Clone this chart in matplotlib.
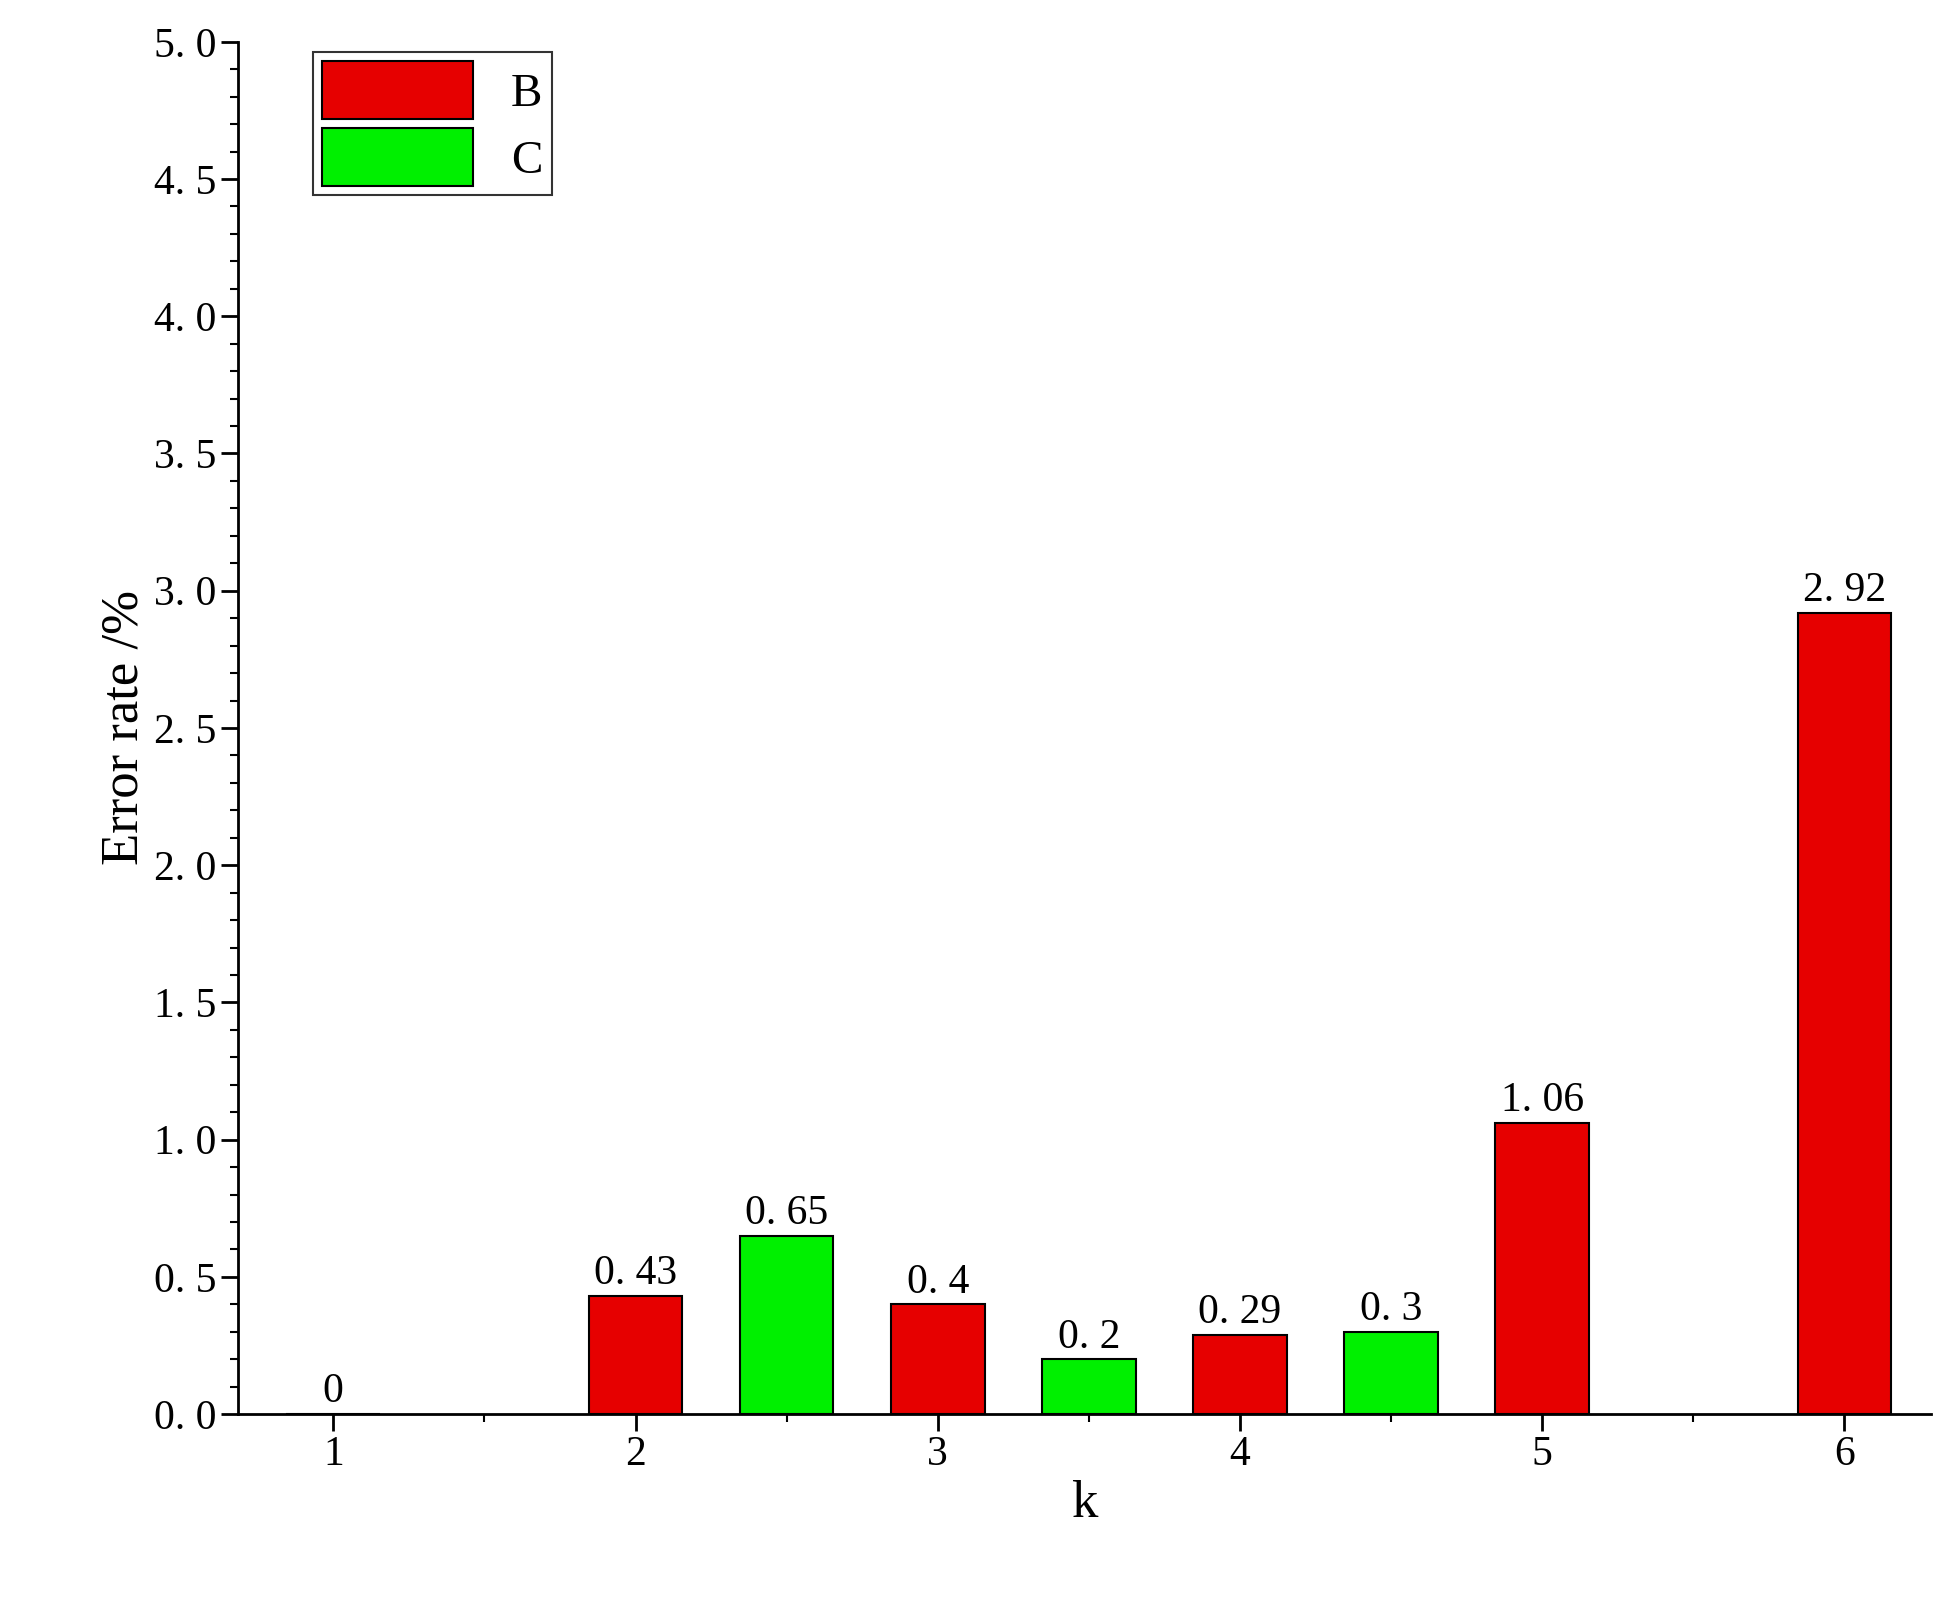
import matplotlib.pyplot as plt
from matplotlib.ticker import MultipleLocator, FuncFormatter

plt.rcParams['font.family'] = ['Liberation Serif', 'DejaVu Serif']

b_pos = [1, 2, 3, 4, 5, 6]
b_vals = [0, 0.43, 0.4, 0.29, 1.06, 2.92]
b_text = ['0', '0. 43', '0. 4', '0. 29', '1. 06', '2. 92']
c_pos = [2.5, 3.5, 4.5]
c_vals = [0.65, 0.2, 0.3]
c_text = ['0. 65', '0. 2', '0. 3']

fig = plt.figure(figsize=(19.54, 16.07), dpi=100)
ax = fig.add_axes([0.122, 0.12, 0.866, 0.854])

bw = 0.31
ax.bar(b_pos, b_vals, bw, color='#e60000', edgecolor='black', linewidth=1.5, label='B')
ax.bar(c_pos, c_vals, bw, color='#00f000', edgecolor='black', linewidth=1.5, label='C')
for x, v, t in zip(b_pos, b_vals, b_text):
    ax.text(x, v + 0.01, t, ha='center', va='bottom', fontsize=30)
for x, v, t in zip(c_pos, c_vals, c_text):
    ax.text(x, v + 0.01, t, ha='center', va='bottom', fontsize=30)

ax.set_xlim(0.686, 6.285)
ax.set_ylim(0, 5.0)
ax.set_xticks(b_pos)
ax.xaxis.set_minor_locator(MultipleLocator(0.5))
ax.yaxis.set_major_locator(MultipleLocator(0.5))
ax.yaxis.set_minor_locator(MultipleLocator(0.1))
ax.yaxis.set_major_formatter(FuncFormatter(lambda v, p: f'{v:.1f}'.replace('.', '. ')))
ax.tick_params(which='major', length=12, width=2, labelsize=30)
ax.tick_params(which='minor', length=6, width=1.5)
for s in ['top', 'right']:
    ax.spines[s].set_visible(False)
for s in ['left', 'bottom']:
    ax.spines[s].set_linewidth(2)

ax.set_xlabel('k', fontsize=38)
ax.set_ylabel('Error rate /%', fontsize=38)

leg = ax.legend(loc='upper left', bbox_to_anchor=(0.03, 1.01), fontsize=34, handlelength=3.2,
                handleheight=1.5, fancybox=False, edgecolor='black', labelspacing=0.2,
                borderpad=0.2, handletextpad=0.8)
leg.get_frame().set_linewidth(1.5)

fig.savefig('out.png')
